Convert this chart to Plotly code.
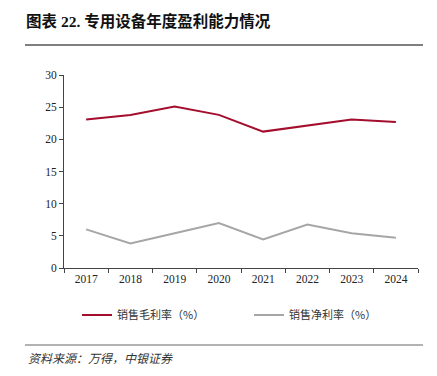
import plotly.graph_objects as go

years = ["2017", "2018", "2019", "2020", "2021", "2022", "2023", "2024"]
gross_margin = [23.1, 23.8, 25.1, 23.8, 21.2, 22.2, 23.1, 22.7]
net_margin = [6.0, 3.8, 5.4, 7.0, 4.45, 6.75, 5.4, 4.7]
series_names = ["销售毛利率（%）", "销售净利率（%）"]
title_text = "图表 22. 专用设备年度盈利能力情况"
source_text = "资料来源：万得，中银证券"

FONT = "Liberation Serif, Noto Sans CJK SC, serif"
W, H = 437, 376
L, R, T, B = 64, 19, 75, 108
ph = H - T - B
pw = W - L - R

def py(y):  # pixel y -> paper y
    return (H - B - y) / ph

def px(x):
    return (x - L) / pw

fig = go.Figure()
fig.add_trace(go.Scatter(x=years, y=gross_margin, mode="lines", name=series_names[0],
                         line=dict(color="#A50D2D", width=2), legend="legend"))
fig.add_trace(go.Scatter(x=years, y=net_margin, mode="lines", name=series_names[1],
                         line=dict(color="#A6A6A6", width=2), legend="legend2"))

leg_font = dict(family="Noto Sans CJK SC", size=11, color="#333")
fig.update_layout(
    width=W, height=H,
    margin=dict(l=L, r=R, t=T, b=B),
    paper_bgcolor="white", plot_bgcolor="white",
    font=dict(family=FONT, size=11, color="#222"),
    showlegend=True,
    legend=dict(orientation="h", x=px(77), xanchor="left", y=py(315), yanchor="middle",
                font=leg_font, itemwidth=30, bgcolor="rgba(0,0,0,0)"),
    legend2=dict(orientation="h", x=px(249), xanchor="left", y=py(315), yanchor="middle",
                 font=leg_font, itemwidth=30, bgcolor="rgba(0,0,0,0)"),
    xaxis=dict(type="category", showline=True, linecolor="#444", linewidth=1,
               ticks="outside", tickson="boundaries", ticklen=4, tickcolor="#444",
               showgrid=False, tickfont=dict(family="Liberation Serif", size=11.5, color="#222"),
               range=[-0.5, 7.5]),
    yaxis=dict(range=[0, 30], dtick=5, showline=True, linecolor="#444", linewidth=1,
               ticks="outside", ticklen=4, tickcolor="#444", showgrid=False, zeroline=False,
               tickfont=dict(family="Liberation Serif", size=11.5, color="#222")),
)

fig.add_annotation(text="<b>" + title_text + "</b>", xref="paper", yref="paper",
                   x=px(24), y=py(21), xanchor="left", yanchor="middle", showarrow=False,
                   font=dict(family="Liberation Serif, Noto Sans CJK SC", size=15.5, color="#111"))
fig.add_shape(type="line", xref="paper", yref="paper", x0=px(25), x1=px(423),
              y0=py(45), y1=py(45), line=dict(color="#555", width=1.5))
fig.add_shape(type="line", xref="paper", yref="paper", x0=px(25), x1=px(423),
              y0=py(345), y1=py(345), line=dict(color="#999", width=1.5))
fig.add_annotation(text="<i>" + source_text + "</i>", xref="paper", yref="paper",
                   x=px(26), y=py(357), xanchor="left", yanchor="middle", showarrow=False,
                   font=dict(family="Noto Sans CJK SC", size=12, color="#333"))

fig.write_html("out.html", config={"displayModeBar": False},
               post_script="document.body.style.margin='0';")
